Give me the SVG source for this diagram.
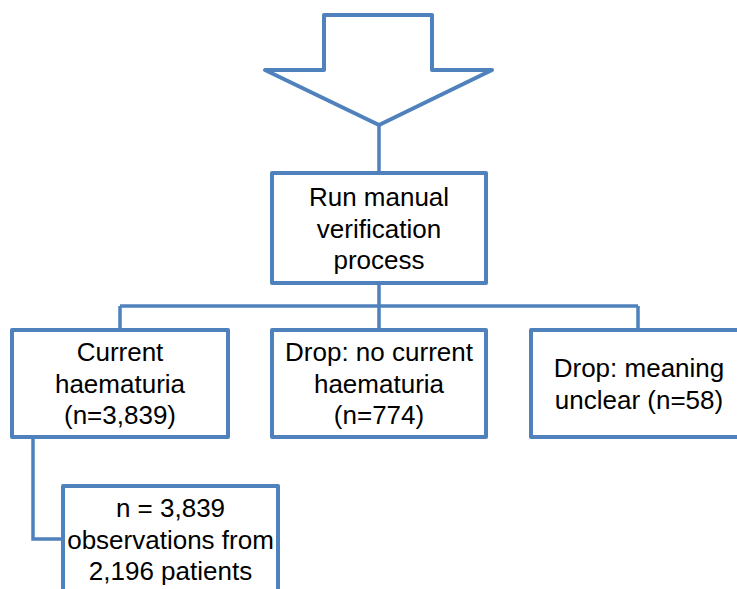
<svg xmlns="http://www.w3.org/2000/svg" width="737" height="589" viewBox="0 0 737 589">
<style>
.box{fill:#fff;stroke:#4F81BD;stroke-width:4;stroke-linejoin:round}
.ln{fill:none;stroke:#4F81BD;stroke-width:3.5}
.t{font-family:"Liberation Sans",Arial,sans-serif;font-size:26px;fill:#000;text-anchor:middle}
</style>
<rect width="737" height="589" fill="#fff"/>
<g id="arrow">
<polygon class="box" points="324,15 432,15 432,70 492,70 379,125 265,70 324,70"/>
</g>
<g id="connectors">
<path class="ln" d="M379,125 V173"/>
<path class="ln" d="M379,283 V306 M120,306 H638 M120,306 V330 M379,306 V330 M638,306 V330"/>
<path class="ln" d="M33,437 V539 H63"/>
</g>
<g id="run">
<rect class="box" x="272" y="173" width="214" height="110"/>
<text class="t" x="379" y="206">Run manual</text>
<text class="t" x="379" y="237.5">verification</text>
<text class="t" x="379" y="269">process</text>
</g>
<g id="current">
<rect class="box" x="12" y="330" width="216" height="107"/>
<text class="t" x="120" y="361">Current</text>
<text class="t" x="120" y="392.5">haematuria</text>
<text class="t" x="120" y="424">(n=3,839)</text>
</g>
<g id="nocurrent">
<rect class="box" x="272" y="330" width="214" height="107"/>
<text class="t" x="379" y="361">Drop: no current</text>
<text class="t" x="379" y="392.5">haematuria</text>
<text class="t" x="379" y="424">(n=774)</text>
</g>
<g id="unclear">
<rect class="box" x="531" y="330" width="216" height="107"/>
<text class="t" x="639" y="377">Drop: meaning</text>
<text class="t" x="639" y="408.5">unclear (n=58)</text>
</g>
<g id="final">
<rect class="box" x="63" y="486" width="215" height="120"/>
<text class="t" x="170.5" y="517">n = 3,839</text>
<text class="t" x="170.5" y="549">observations from</text>
<text class="t" x="170.5" y="580">2,196 patients</text>
</g>
</svg>
